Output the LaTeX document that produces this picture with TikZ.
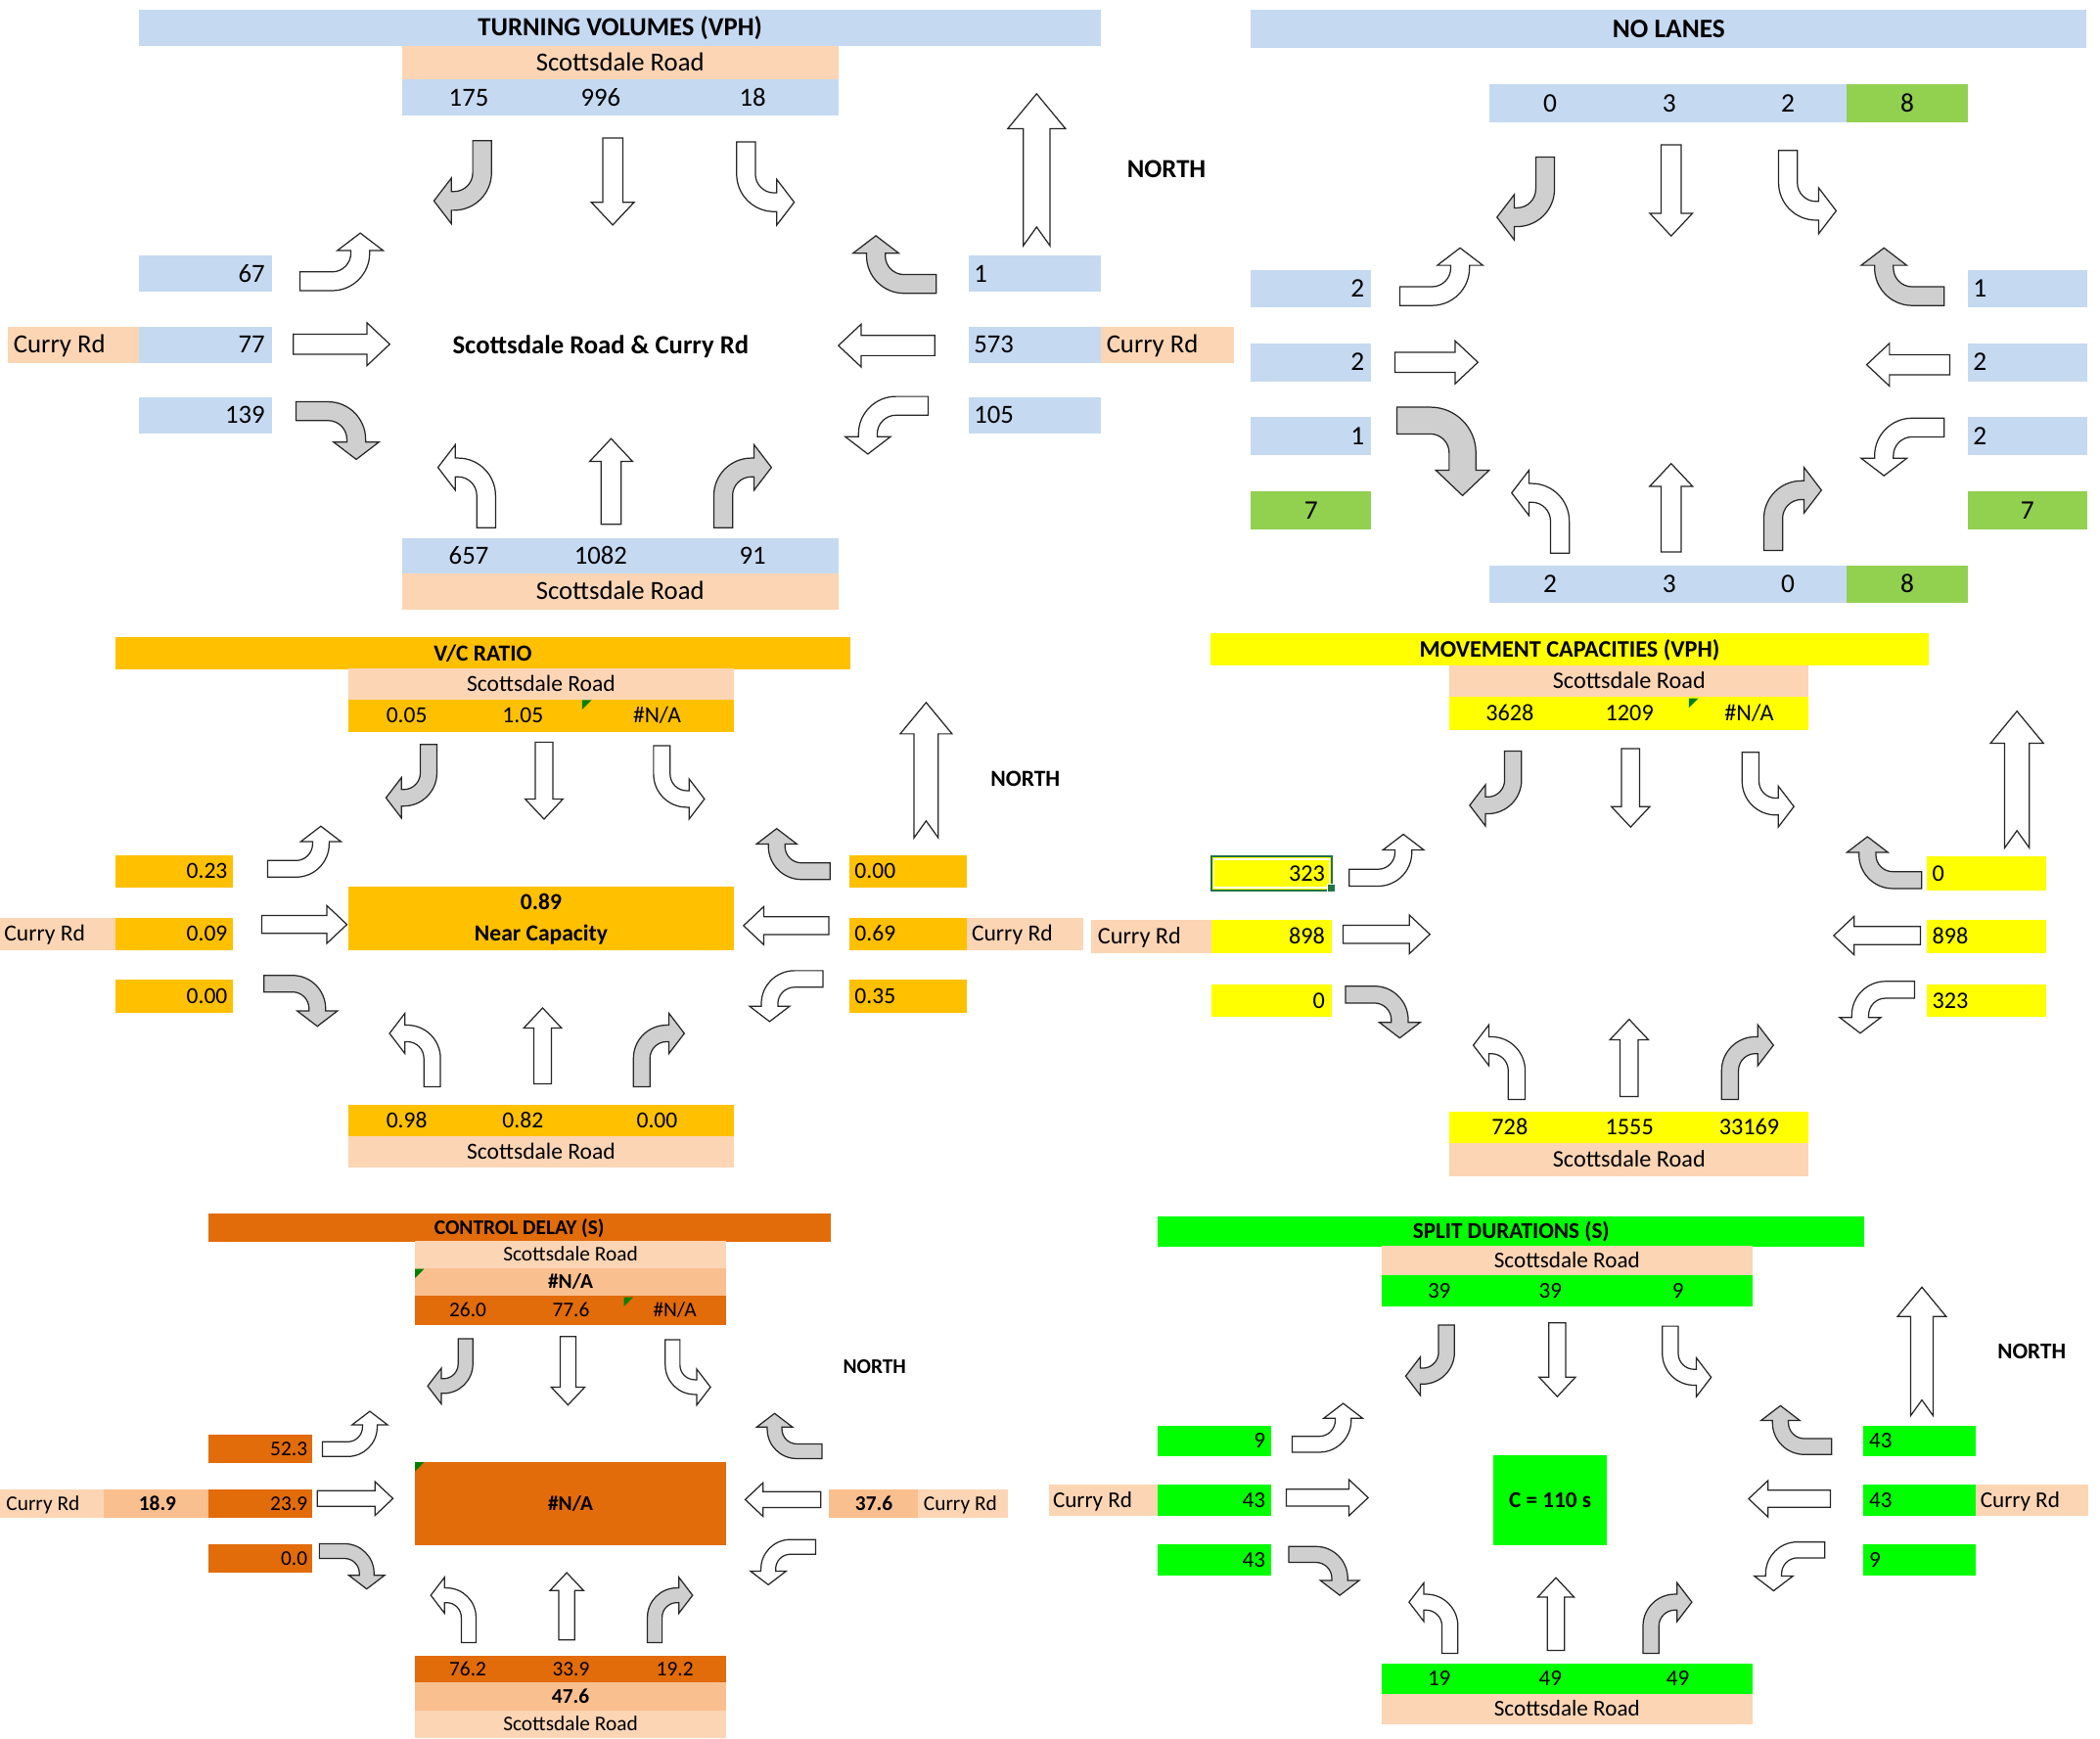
\documentclass[tikz,border=0pt]{standalone}
\usepackage{fontspec}
\setmainfont{Carlito}
\definecolor{volblue}{HTML}{C5D9F1}
\definecolor{roadpeach}{HTML}{FCD5B4}
\definecolor{lanegreen}{HTML}{92D050}
\definecolor{vcorange}{HTML}{FFC000}
\definecolor{capyellow}{HTML}{FFFF00}
\definecolor{delayorange}{HTML}{E26B0A}
\definecolor{delaylight}{HTML}{FABF8F}
\definecolor{splitgreen}{HTML}{00FF00}
\definecolor{errgreen}{HTML}{008000}
\definecolor{selgreen}{HTML}{217346}
\definecolor{turngray}{HTML}{CFCFCF}
\tikzset{
  arrowline/.style={draw=black!85, line width=0.9pt, line join=miter},
  txt/.style={inner sep=0pt, text height={0.63*#1}, text depth=0pt, font=\fontsize{#1}{#1}\selectfont},
  txtb/.style={txt=#1, font=\fontsize{#1}{#1}\selectfont\bfseries}
}
\newcommand{\turnarr}[5]{\filldraw[arrowline, fill=#5, shift={(#1,#2)}, rotate=#3, xscale=#4] (0,0) -- (0,-24) .. controls (0,-39.46) and (12.54,-52) .. (28,-52) -- (30,-52) -- (30,-62) -- (43,-45) -- (30,-28) -- (30,-38) -- (28,-38) .. controls (20.27,-38) and (14,-31.73) .. (14,-24) -- (14,0) -- cycle;}
\newcommand{\bigturn}[2]{\filldraw[arrowline, fill=turngray, shift={(#1,#2)}, rotate=-90] (0,0) -- (0,-25) .. controls (0,-43.78) and (15.22,-59) .. (34,-59) -- (47,-59) -- (47,-69) -- (66,-49) -- (47,-29) -- (47,-39) -- (34,-39) .. controls (26.27,-39) and (20,-32.73) .. (20,-25) -- (20,0) -- cycle;}
\newcommand{\straightarr}[4]{\filldraw[arrowline, fill=white, shift={(#1,#2)}, rotate=#3] (-7.5,0) -- (-7.5,{17-#4}) -- (-16,{17-#4}) -- (0,-#4) -- (16,{17-#4}) -- (7.5,{17-#4}) -- (7.5,0) -- cycle;}
\newcommand{\northarr}[4]{\filldraw[arrowline, fill=white, shift={(#1,#2)}, scale=#4] (0,0) -- (21.5,26) -- (10,26) -- (10,#3) -- (0,{#3-14}) -- (-10,#3) -- (-10,26) -- (-21.5,26) -- cycle;}
\newcommand{\errmark}[2]{\fill[errgreen] (#1,#2) -- ++(7,0) -- ++(-7,7) -- cycle;}
\newcommand{\arrowset}{%
  \turnarr{-91.5}{-142}{180}{1}{turngray}
  \straightarr{-1}{-144}{180}{65}
  \turnarr{91.5}{-141}{180}{-1}{white}
  \turnarr{-234.5}{-30}{-90}{-1}{white}
  \straightarr{-239.5}{10}{-90}{72}
  \turnarr{-237.5}{53}{-90}{1}{turngray}
  \turnarr{240.5}{-28}{90}{1}{turngray}
  \straightarr{239.5}{11}{90}{72}
  \turnarr{234.5}{49}{90}{-1}{white}
  \turnarr{-88.5}{147}{0}{-1}{white}
  \straightarr{-2.2}{144.5}{0}{64}
  \turnarr{74.5}{147}{0}{1}{turngray}}
\begin{document}
\begin{tikzpicture}[x=1pt,y=-1pt]
\useasboundingbox (0,0) rectangle (1568,1298);
\fill[white] (0,0) rectangle (1568,1298);

\fill[volblue] (104,7) rectangle (822,34);
\node[txtb=19.5] (tvtitle) at (463,20.5) {TURNING VOLUMES (VPH)};
\fill[roadpeach] (300,34) rectangle (626,59.5);
\node[txt=19.5] (tvroadN) at (463,46.7) {Scottsdale Road};
\fill[volblue] (300,59.5) rectangle (626,86.5);
\node[txt=19.5] (tvSR) at (350,73) {175};
\node[txt=19.5] (tvST) at (448.5,73) {996};
\node[txt=19.5] (tvSL) at (562,73) {18};
\fill[volblue] (104,191) rectangle (203,218);
\node[txt=19.5, anchor=east] (tvEL) at (198,204.5) {67};
\fill[roadpeach] (6,244) rectangle (104,271);
\node[txt=19.5, anchor=west] (tvroadW) at (10,257.5) {Curry Rd};
\fill[volblue] (104,244) rectangle (203,271);
\node[txt=19.5, anchor=east] (tvET) at (198,257.5) {77};
\fill[volblue] (104,297) rectangle (203,323.5);
\node[txt=19.5, anchor=east] (tvER) at (198,310) {139};
\fill[volblue] (723,191) rectangle (822,218);
\node[txt=19.5, anchor=west] (tvWR) at (727,204.5) {1};
\fill[volblue] (723,244) rectangle (822,271);
\node[txt=19.5, anchor=west] (tvWT) at (727,257.5) {573};
\fill[roadpeach] (822,244) rectangle (921,271);
\node[txt=19.5, anchor=west] (tvroadE) at (826,257.5) {Curry Rd};
\fill[volblue] (723,297) rectangle (822,323.5);
\node[txt=19.5, anchor=west] (tvWL) at (727,310) {105};
\node[txtb=19.5] (tvname) at (448.5,258) {Scottsdale Road \& Curry Rd};
\node[txtb=19.5] (tvnorth) at (871,126.5) {NORTH};
\fill[volblue] (300,402) rectangle (626,428);
\node[txt=19.5] (tvNL) at (350,415) {657};
\node[txt=19.5] (tvNT) at (448.5,415) {1082};
\node[txt=19.5] (tvNR) at (562,415) {91};
\fill[roadpeach] (300,428) rectangle (626,455);
\node[txt=19.5] (tvroadS) at (463,441.5) {Scottsdale Road};
\northarr{774}{70}{113.5}{1}
\begin{scope}[shift={(458.5,247)}]
\arrowset
\end{scope}

\fill[volblue] (934,7) rectangle (1558,36);
\node[txtb=20] (nltitle) at (1246,21.5) {NO LANES};
\fill[volblue] (1111.7,62.6) rectangle (1379,91);
\fill[lanegreen] (1379,62.6) rectangle (1469,91);
\node[txt=20] (nlSR) at (1157.4,77) {0};
\node[txt=20] (nlST) at (1246.4,77) {3};
\node[txt=20] (nlSL) at (1335,77) {2};
\node[txt=20] (nlS) at (1424,77) {8};
\fill[volblue] (934,201.3) rectangle (1024,229.6);
\node[txt=20, anchor=east] (nlEL) at (1019,215.5) {2};
\fill[volblue] (934,256.5) rectangle (1024,284.8);
\node[txt=20, anchor=east] (nlET) at (1019,270.6) {2};
\fill[volblue] (934,311.6) rectangle (1024,340);
\node[txt=20, anchor=east] (nlER) at (1019,325.8) {1};
\fill[lanegreen] (934,366.8) rectangle (1024,395.1);
\node[txt=20] (nlE) at (979,381) {7};
\fill[volblue] (1469,201.3) rectangle (1558.7,229.6);
\node[txt=20, anchor=west] (nlWR) at (1473,215.5) {1};
\fill[volblue] (1469,256.5) rectangle (1558.7,284.8);
\node[txt=20, anchor=west] (nlWT) at (1473,270.6) {2};
\fill[volblue] (1469,311.6) rectangle (1558.7,340);
\node[txt=20, anchor=west] (nlWL) at (1473,325.8) {2};
\fill[lanegreen] (1469,366.8) rectangle (1558.7,395.1);
\node[txt=20] (nlW) at (1513.8,381) {7};
\fill[volblue] (1111.7,422) rectangle (1379,450.3);
\fill[lanegreen] (1379,422) rectangle (1469,450.3);
\node[txt=20] (nlNL) at (1157.4,436.2) {2};
\node[txt=20] (nlNT) at (1246.4,436.2) {3};
\node[txt=20] (nlNR) at (1335,436.2) {0};
\node[txt=20] (nlN) at (1424,436.2) {8};
\turnarr{1160.7}{117.2}{180}{1}{turngray}
\straightarr{1247.8}{108.2}{180}{68}
\turnarr{1328}{112.4}{180}{-1}{white}
\turnarr{1045.2}{228.1}{-90}{-1}{white}
\straightarr{1041.5}{270.5}{-90}{62}
\bigturn{1043}{304}
\turnarr{1451.7}{228.1}{90}{1}{turngray}
\straightarr{1455.8}{272.3}{90}{62}
\turnarr{1451.7}{312.2}{90}{-1}{white}
\turnarr{1171.7}{413}{0}{-1}{white}
\straightarr{1247.8}{412.1}{0}{66}
\turnarr{1317}{411}{0}{1}{turngray}

\fill[vcorange] (86,476) rectangle (635,500);
\node[txtb=17.2] (vctitle) at (360.5,488) {V/C RATIO};
\fill[roadpeach] (260,499.4) rectangle (548,522.4);
\node[txt=17.2] (vcroadN) at (404,511) {Scottsdale Road};
\fill[vcorange] (260,522.4) rectangle (548,546.4);
\node[txt=17.2] (vcSR) at (303.7,534.4) {0.05};
\node[txt=17.2] (vcST) at (390.4,534.4) {1.05};
\node[txt=17.2] (vcSL) at (490.6,534.4) {\#N/A};
\errmark{434.7}{522.6}
\fill[vcorange] (86,638.5) rectangle (173.8,662.8);
\node[txt=17.2, anchor=east] (vcEL) at (170,650.6) {0.23};
\fill[roadpeach] (0,685) rectangle (86,709.3);
\node[txt=17.2, anchor=west] (vcroadW) at (3,697.2) {Curry Rd};
\fill[vcorange] (86,685) rectangle (173.8,709.3);
\node[txt=17.2, anchor=east] (vcET) at (170,697.2) {0.09};
\fill[vcorange] (86,731.7) rectangle (173.8,756);
\node[txt=17.2, anchor=east] (vcER) at (170,743.9) {0.00};
\fill[vcorange] (634,638.5) rectangle (721.8,662.8);
\node[txt=17.2, anchor=west] (vcWR) at (638,650.6) {0.00};
\fill[vcorange] (634,685) rectangle (721.8,709.3);
\node[txt=17.2, anchor=west] (vcWT) at (638,697.2) {0.69};
\fill[roadpeach] (721.8,685) rectangle (809,709.3);
\node[txt=17.2, anchor=west] (vcroadE) at (725.4,697.2) {Curry Rd};
\fill[vcorange] (634,731.7) rectangle (721.8,756);
\node[txt=17.2, anchor=west] (vcWL) at (638,743.9) {0.35};
\fill[vcorange] (260,662) rectangle (548,709.3);
\node[txtb=17.2] (vcall) at (404,673.8) {0.89};
\node[txtb=17.2] (vclos) at (404,697.3) {Near Capacity};
\node[txtb=17.2] (vcnorth) at (765.6,581.6) {NORTH};
\fill[vcorange] (260,824.6) rectangle (548,848);
\node[txt=17.2] (vcNL) at (303.7,836.3) {0.98};
\node[txt=17.2] (vcNT) at (390.4,836.3) {0.82};
\node[txt=17.2] (vcNR) at (490.6,836.3) {0.00};
\fill[roadpeach] (260,848) rectangle (548,872);
\node[txt=17.2] (vcroadS) at (404,860) {Scottsdale Road};
\northarr{691.5}{524.5}{112.2}{0.9}
\begin{scope}[shift={(407.1,681.4)}, scale=0.884]
\arrowset
\end{scope}

\fill[capyellow] (904,473) rectangle (1440,497);
\node[txtb=17.7] (mctitle) at (1172,485) {MOVEMENT CAPACITIES (VPH)};
\fill[roadpeach] (1082.4,496.5) rectangle (1350.4,520.3);
\node[txt=17.7] (mcroadN) at (1216.4,508.4) {Scottsdale Road};
\fill[capyellow] (1082.4,520.3) rectangle (1350.4,545.2);
\node[txt=17.7] (mcSR) at (1127.3,532.7) {3628};
\node[txt=17.7] (mcST) at (1216.7,532.7) {1209};
\node[txt=17.7] (mcSL) at (1306,532.7) {\#N/A};
\errmark{1261}{521.5}
\fill[capyellow] (904.3,639.2) rectangle (994.6,665);
\draw[white, line width=1pt] (906.5,641.4) rectangle (992.4,662.8);
\draw[selgreen, line width=1.6pt] (904.3,639.2) rectangle (994.6,665);
\filldraw[fill=selgreen, draw=white, line width=0.7pt] (990.8,660.2) rectangle (996.6,666.2);
\node[txt=17.7, anchor=east] (mcEL) at (989.5,652.1) {323};
\fill[roadpeach] (815,687) rectangle (904.3,711.7);
\node[txt=17.7, anchor=west] (mcroadW) at (819.5,699.3) {Curry Rd};
\fill[capyellow] (904.3,687) rectangle (994.6,711.7);
\node[txt=17.7, anchor=east] (mcET) at (989.5,699.3) {898};
\fill[capyellow] (904.3,734.7) rectangle (994.6,759.5);
\node[txt=17.7, anchor=east] (mcER) at (989.5,747.1) {0};
\fill[capyellow] (1438.7,639.2) rectangle (1528,665);
\node[txt=17.7, anchor=west] (mcWR) at (1442.5,652.1) {0};
\fill[capyellow] (1438.7,687) rectangle (1528,711.7);
\node[txt=17.7, anchor=west] (mcWT) at (1442.5,699.3) {898};
\fill[capyellow] (1438.7,734.7) rectangle (1528,759.5);
\node[txt=17.7, anchor=west] (mcWL) at (1442.5,747.1) {323};
\fill[capyellow] (1082.4,829.8) rectangle (1350.4,853.6);
\node[txt=17.7] (mcNL) at (1127.3,841.7) {728};
\node[txt=17.7] (mcNT) at (1216.7,841.7) {1555};
\node[txt=17.7] (mcNR) at (1306,841.7) {33169};
\fill[roadpeach] (1082.4,853.6) rectangle (1350.4,877.9);
\node[txt=17.7] (mcroadS) at (1216.4,865.7) {Scottsdale Road};
\northarr{1506}{531}{110.9}{0.92}
\begin{scope}[shift={(1218.4,688.6)}, scale=0.9]
\arrowset
\end{scope}

\fill[delayorange] (155.6,906) rectangle (620,927);
\node[txtb=15.6] (cdtitle) at (387.8,916.5) {CONTROL DELAY (S)};
\fill[roadpeach] (309.7,926.3) rectangle (542.4,947.1);
\node[txt=15.6] (cdroadN) at (426,936.7) {Scottsdale Road};
\fill[delaylight] (309.7,947.1) rectangle (542.4,967.5);
\node[txtb=15.6] (cdS) at (426,957.3) {\#N/A};
\errmark{309.9}{947.3}
\fill[delayorange] (309.7,967.5) rectangle (542.4,989.1);
\node[txt=15.6] (cdSR) at (349.3,978.3) {26.0};
\node[txt=15.6] (cdST) at (426.3,978.3) {77.6};
\node[txt=15.6] (cdSL) at (503.9,978.3) {\#N/A};
\errmark{465.8}{968.5}
\node[txtb=15.6] (cdnorth) at (653,1020.4) {NORTH};
\fill[delayorange] (155.6,1071) rectangle (233.2,1092.2);
\node[txt=15.6, anchor=east] (cdEL) at (229.7,1081.6) {52.3};
\fill[roadpeach] (0,1112) rectangle (77.6,1133.4);
\node[txt=15.6, anchor=west] (cdroadW) at (4.5,1122.7) {Curry Rd};
\fill[delaylight] (77.6,1112) rectangle (155.6,1133.4);
\node[txtb=15.6] (cdE) at (117.6,1122.7) {18.9};
\fill[delayorange] (155.6,1112) rectangle (233.2,1133.4);
\node[txt=15.6, anchor=east] (cdET) at (229.7,1122.7) {23.9};
\fill[delayorange] (155.6,1153.2) rectangle (233.2,1174.3);
\node[txt=15.6, anchor=east] (cdER) at (229.7,1163.8) {0.0};
\fill[delayorange] (309.7,1091.4) rectangle (542.4,1153.7);
\node[txtb=15.6] (cdall) at (426,1122.5) {\#N/A};
\errmark{309.9}{1091.6}
\fill[delaylight] (619,1112) rectangle (685.7,1133.4);
\node[txtb=15.6] (cdW) at (652.5,1122.7) {37.6};
\fill[roadpeach] (685.7,1112) rectangle (752.4,1133.4);
\node[txt=15.6, anchor=west] (cdroadE) at (689.5,1122.7) {Curry Rd};
\fill[delayorange] (309.7,1235.9) rectangle (542.4,1256.2);
\node[txt=15.6] (cdNL) at (349.3,1246) {76.2};
\node[txt=15.6] (cdNT) at (426.3,1246) {33.9};
\node[txt=15.6] (cdNR) at (503.9,1246) {19.2};
\fill[delaylight] (309.7,1256.2) rectangle (542.4,1277.3);
\node[txtb=15.6] (cdN) at (426,1266.7) {47.6};
\fill[roadpeach] (309.7,1277.3) rectangle (542.4,1297.7);
\node[txt=15.6] (cdroadS) at (426,1287.5) {Scottsdale Road};
\begin{scope}[shift={(424.9,1111)}, scale=0.785]
\arrowset
\end{scope}

\fill[splitgreen] (864.6,908) rectangle (1392,930.6);
\node[txtb=16.9] (sdtitle) at (1128.3,919.3) {SPLIT DURATIONS (S)};
\fill[roadpeach] (1031.6,930.1) rectangle (1308.4,952.2);
\node[txt=16.9] (sdroadN) at (1170,941.2) {Scottsdale Road};
\fill[splitgreen] (1031.6,952.2) rectangle (1308.4,975.1);
\node[txt=16.9] (sdSR) at (1074.6,963.6) {39};
\node[txt=16.9] (sdST) at (1157.6,963.6) {39};
\node[txt=16.9] (sdSL) at (1252.8,963.6) {9};
\node[txtb=16.9] (sdnorth) at (1517,1009.5) {NORTH};
\fill[splitgreen] (864.6,1064.2) rectangle (949.1,1087);
\node[txt=16.9, anchor=east] (sdEL) at (945,1075.6) {9};
\fill[roadpeach] (783.1,1108.7) rectangle (864.6,1131.6);
\node[txt=16.9, anchor=west] (sdroadW) at (786,1120.2) {Curry Rd};
\fill[splitgreen] (864.6,1108.7) rectangle (949.1,1131.6);
\node[txt=16.9, anchor=east] (sdET) at (945,1120.2) {43};
\fill[splitgreen] (864.6,1153.2) rectangle (949.1,1176);
\node[txt=16.9, anchor=east] (sdER) at (945,1164.6) {43};
\fill[splitgreen] (1391,1064.2) rectangle (1475.5,1087);
\node[txt=16.9, anchor=west] (sdWR) at (1395.5,1075.6) {43};
\fill[splitgreen] (1391,1108.7) rectangle (1475.5,1131.6);
\node[txt=16.9, anchor=west] (sdWT) at (1395.5,1120.2) {43};
\fill[roadpeach] (1475.5,1108.7) rectangle (1559,1131.6);
\node[txt=16.9, anchor=west] (sdroadE) at (1478.5,1120.2) {Curry Rd};
\fill[splitgreen] (1391,1153.2) rectangle (1475.5,1176);
\node[txt=16.9, anchor=west] (sdWL) at (1395.5,1164.6) {9};
\fill[splitgreen] (1115.1,1086.3) rectangle (1199.6,1153.7);
\node[txtb=16.9] (sdcycle) at (1157.4,1120) {C = 110 s};
\fill[splitgreen] (1031.6,1242.2) rectangle (1308.4,1264.6);
\node[txt=16.9] (sdNL) at (1074.6,1253.4) {19};
\node[txt=16.9] (sdNT) at (1157.6,1253.4) {49};
\node[txt=16.9] (sdNR) at (1252.8,1253.4) {49};
\fill[roadpeach] (1031.6,1264.6) rectangle (1308.4,1287.5);
\node[txt=16.9] (sdroadS) at (1170,1276) {Scottsdale Road};
\northarr{1435}{961}{114.3}{0.84}
\begin{scope}[shift={(1163.6,1109.7)}, scale=0.848]
\arrowset
\end{scope}
\end{tikzpicture}
\end{document}
